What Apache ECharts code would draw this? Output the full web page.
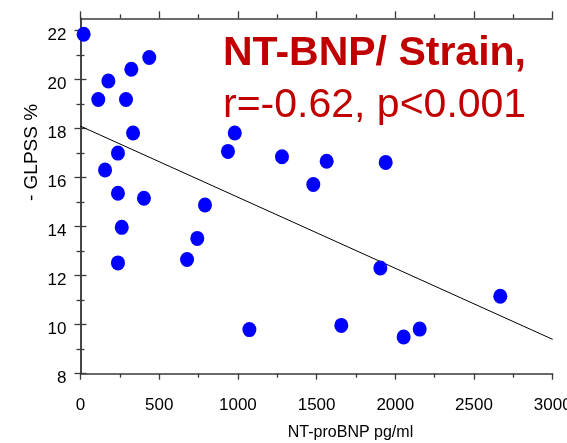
<!DOCTYPE html>
<html><head><meta charset="utf-8">
<script src="https://cdn.jsdelivr.net/npm/echarts@6/dist/echarts.min.js"></script>
<style>html,body{margin:0;padding:0;background:#fff}#c{width:567px;height:443px}</style>
</head><body><div id="c"></div>
<script>
// Data
const ntProBNP = [20, 437, 323, 177, 113, 289, 334, 238, 156, 238, 403, 262, 238, 677, 742, 791, 980, 937, 1280, 1564, 1479, 1939, 1905, 2667, 1073, 1657, 2053, 2155];
const glpss    = [21.85, 20.9, 20.42, 19.94, 19.19, 19.19, 17.82, 17.0, 16.31, 15.36, 15.16, 13.97, 12.52, 12.66, 13.52, 14.88, 17.82, 17.07, 16.85, 16.67, 15.72, 16.62, 12.31, 11.16, 9.80, 9.97, 9.50, 9.82];
const fitX = [0, 3000];
const fitY = [18.1, 9.4];
const xMajorTicks = [0, 500, 1000, 1500, 2000, 2500, 3000];
const xMinorTicks = [250, 750, 1250, 1750, 2250, 2750];
const yMajorTicks = [8, 10, 12, 14, 16, 18, 20, 22];
const yMinorTicks = [9, 11, 13, 15, 17, 19, 21];
const titleLine1 = 'NT-BNP/ Strain,';
const titleLine2 = 'r=-0.62, p<0.001';
const xName = 'NT-proBNP pg/ml';
const yName = '- GLPSS %';

const FONT = '"Liberation Sans", Arial, sans-serif';
const AX = '#3a3a3a';
const chart = echarts.init(document.getElementById('c'), null, {renderer: 'canvas'});

function xAx(pos, ticks, len, showLine, showLabel) {
  return {
    type: 'value', position: pos, min: 0, max: 3000, interval: 250,
    axisLine: {show: showLine, lineStyle: {color: AX, width: 1.5}},
    axisTick: {show: true, inside: false, length: len, customValues: ticks, lineStyle: {color: AX, width: 1.3}},
    axisLabel: showLabel ? {show: true, customValues: xMajorTicks, formatter: v => String(v), margin: 23, fontSize: 17, color: '#000', fontFamily: FONT} : {show: false},
    splitLine: {show: false}
  };
}
function yAx(pos, ticks, len, showLine, showLabel) {
  return {
    type: 'value', position: pos, min: 8, max: 22.5, interval: 1,
    axisLine: {show: showLine, lineStyle: {color: AX, width: 1.5}},
    axisTick: {show: true, inside: false, length: len, customValues: ticks, lineStyle: {color: AX, width: 1.3}},
    axisLabel: showLabel ? {show: true, customValues: yMajorTicks, formatter: v => String(v), margin: 14, fontSize: 17, color: '#000', fontFamily: FONT, verticalAlign: 'top', lineHeight: 9} : {show: false},
    splitLine: {show: false}
  };
}

chart.setOption({
  animation: false,
  backgroundColor: '#fff',
  grid: {left: 80.5, right: 14.3, top: 18.3, bottom: 69.3, containLabel: false, outerBoundsMode: 'none'},
  xAxis: [
    xAx('bottom', xMajorTicks, 6, true, true),
    xAx('top', xMajorTicks, 7, true, false),
    xAx('bottom', xMinorTicks, 4, false, false),
    xAx('top', xMinorTicks, 4, false, false)
  ],
  yAxis: [
    yAx('left', yMajorTicks, 6, true, true),
    yAx('right', yMajorTicks, 6, true, false),
    yAx('left', yMinorTicks, 4, false, false),
    yAx('right', yMinorTicks, 4, false, false)
  ],
  series: [
    {
      type: 'line', xAxisIndex: 0, yAxisIndex: 0,
      data: fitX.map((x, i) => [x, fitY[i]]),
      showSymbol: false, symbol: 'none',
      lineStyle: {color: '#000', width: 1}, z: 2
    },
    {
      type: 'scatter', xAxisIndex: 0, yAxisIndex: 0,
      data: ntProBNP.map((x, i) => [x, glpss[i]]),
      symbol: 'circle', symbolSize: [14, 15],
      itemStyle: {color: '#0000ff', opacity: 1}, z: 3
    }
  ],
  graphic: [
    {type: 'text', x: 223, y: 54, style: {text: titleLine1, fill: '#c00000', font: 'bold 41px ' + FONT, align: 'left', verticalAlign: 'middle'}},
    {type: 'text', x: 223, y: 106, style: {text: titleLine2, fill: '#c00000', font: '41px ' + FONT, align: 'left', verticalAlign: 'middle'}},
    {type: 'text', x: 350.5, y: 433, style: {text: xName, fill: '#000', font: '16px ' + FONT, align: 'center', verticalAlign: 'middle'}},
    {type: 'text', x: 31.7, y: 152.5, rotation: Math.PI / 2, style: {text: yName, fill: '#000', font: '19px ' + FONT, align: 'center', verticalAlign: 'middle'}}
  ]
});
</script></body></html>
